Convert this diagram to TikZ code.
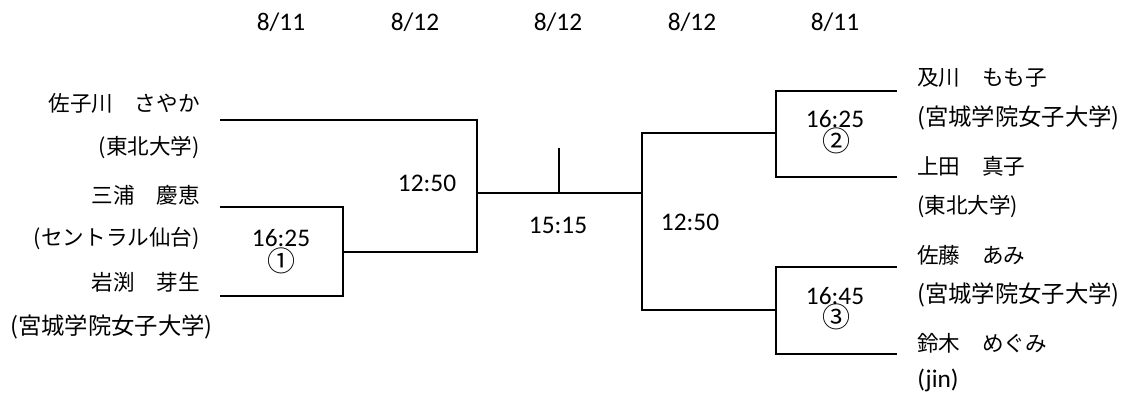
\documentclass[tikz,border=0pt]{standalone}
\usepackage{fontspec}
\setmainfont{Carlito}
\newfontfamily\jp{Noto Sans CJK JP}
\begin{document}
\begin{tikzpicture}[x=0.75pt,y=-0.75pt,
        every node/.style={inner sep=0pt},
        bline/.style={line width=2pt},
        clock/.style={font=\fontsize{19}{21}\selectfont},
        player/.style={font=\jp\fontsize{16.2}{18}\selectfont},
        widename/.style={font=\jp\fontsize{17.5}{20}\selectfont},
        circnum/.style={font=\jp\fontsize{21}{22}\selectfont}]
        \useasboundingbox (0,0) rectangle (1127,394);
        % dates
        \node[clock] (d1) at (281,22) {8/11};
        \node[clock] (d2) at (415,22) {8/12};
        \node[clock] (d3) at (558,22) {8/12};
        \node[clock] (d4) at (692,22) {8/12};
        \node[clock] (d5) at (835,22) {8/11};
        % left players
        \node[player,anchor=east] (l1) at (200,103) {佐子川　さやか};
        \node[player,anchor=east] (l1u) at (200,147) {(東北大学)};
        \node[player,anchor=east] (l2) at (200,195) {三浦　慶恵};
        \node[player,anchor=east] (l2u) at (200,238) {(セントラル仙台)};
        \node[player,anchor=east] (l3) at (200,282) {岩渕　芽生};
        \node[widename,anchor=east] (l3u) at (213,327) {(宮城学院女子大学)};
        % right players
        \node[player,anchor=west] (r1) at (917,78) {及川　もも子};
        \node[widename,anchor=west] (r1u) at (917,118) {(宮城学院女子大学)};
        \node[player,anchor=west] (r2) at (917,166) {上田　真子};
        \node[player,anchor=west] (r2u) at (917,206) {(東北大学)};
        \node[player,anchor=west] (r3) at (917,255) {佐藤　あみ};
        \node[widename,anchor=west] (r3u) at (917,295) {(宮城学院女子大学)};
        \node[player,anchor=west] (r4) at (917,343) {鈴木　めぐみ};
        \node[clock,anchor=west] (r4u) at (917,380) {(jin)};
        % bracket corners
        \coordinate (a1) at (220,120);
        \coordinate (a2) at (220,207);
        \coordinate (a3) at (220,296);
        \coordinate (m1) at (343,252);
        \coordinate (sf1) at (477,193);
        \coordinate (fin) at (559,193);
        \coordinate (sf2) at (642,193);
        \coordinate (m2) at (776,133);
        \coordinate (m3) at (776,310);
        \coordinate (b1) at (897,91);
        \coordinate (b2) at (897,177);
        \coordinate (b3) at (897,267);
        \coordinate (b4) at (897,354);
        \draw[bline] (a2) -| (m1) |- (a3);
        \draw[bline] (a1) -| (sf1) |- (m1);
        \draw[bline] (sf1) -- (sf2);
        \draw[bline] (fin) -- ++(0,-45);
        \draw[bline] (b1) -| (m2) |- (b2);
        \draw[bline] (b3) -| (m3) |- (b4);
        \draw[bline] (m2) -| (sf2) |- (m3);
        % match times
        \node[clock] (t1) at (281,238) {16:25};
        \node[circnum] (n1) at (281,261) {①};
        \node[clock] (t2) at (427,183) {12:50};
        \node[clock] (t3) at (558,225) {15:15};
        \node[clock] (t4) at (690,222) {12:50};
        \node[clock] (t5) at (835,119) {16:25};
        \node[circnum] (n2) at (836,141) {②};
        \node[clock] (t6) at (835,296) {16:45};
        \node[circnum] (n3) at (836,317) {③};
\end{tikzpicture}
\end{document}
